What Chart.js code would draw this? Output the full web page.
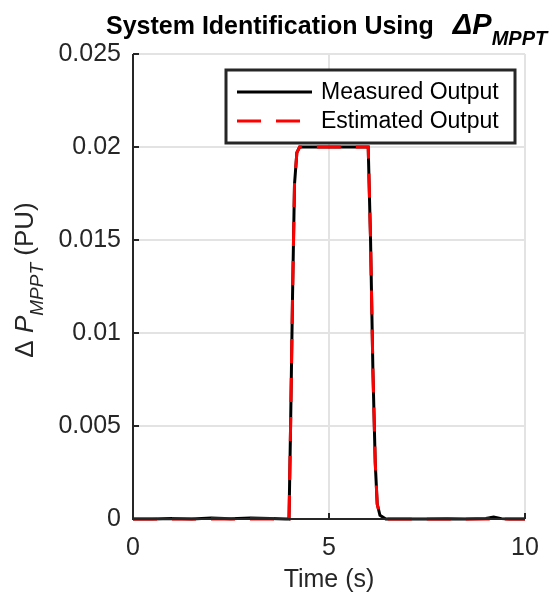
<!DOCTYPE html>
<html>
<head>
<meta charset="utf-8">
<script src="https://cdn.jsdelivr.net/npm/chart.js@4"></script>
<style>
  html, body { margin: 0; padding: 0; background: #fff; }
  #wrap { width: 555px; height: 596px; position: relative; }
</style>
</head>
<body>
<div id="wrap"><canvas id="chart" width="555" height="596"></canvas></div>
<script>
// System identification - step response of dP_MPPT

const timeS = [0, 0.5, 1, 1.5, 2, 2.5, 3, 3.5, 3.9, 3.98, 4.02, 4.07, 4.12, 4.18, 4.25, 4.5, 5, 5.5, 5.8, 6.0, 6.06, 6.12, 6.18, 6.23, 6.3, 6.45, 7, 7.5, 8, 8.5, 9, 9.2, 9.4, 9.6, 10];
const measured = [0, 0, 0.00003, 0, 0.00006, 0.00002, 0.00005, 0.00003, 0, 0, 0.005, 0.012, 0.018, 0.0197, 0.02, 0.02, 0.02, 0.02, 0.02, 0.02, 0.015, 0.008, 0.003, 0.0008, 0.0002, 0, 0, 0, 0.00002, 0, 0.00003, 0.0001, 0.00002, 0, 0];
const estimated = [0, 0, 0, 0, 0, 0, 0, 0, 0, 0, 0.005, 0.012, 0.018, 0.0197, 0.02, 0.02, 0.02, 0.02, 0.02, 0.02, 0.015, 0.008, 0.003, 0.0008, 0.0002, 0, 0, 0, 0, 0, 0, 0, 0, 0, 0];
const xTicks = [0, 5, 10];
const yTicks = [0, 0.005, 0.01, 0.015, 0.02, 0.025];

const FONT = '"Liberation Sans", Arial, sans-serif';
const AXIS = '#262626';

function pts(ys) {
  return timeS.map((t, i) => ({ x: t, y: ys[i] }));
}

// draws title, axis labels, inward ticks, box lines and legend
const decor = {
  id: 'decor',
  afterDraw(chart) {
    const ctx = chart.ctx;
    const a = chart.chartArea;
    const xs = chart.scales.x, ys = chart.scales.y;
    ctx.save();

    // axis lines
    ctx.strokeStyle = AXIS;
    ctx.lineWidth = 2;
    ctx.beginPath();
    ctx.moveTo(a.left, a.top);
    ctx.lineTo(a.left, a.bottom);
    ctx.lineTo(a.right, a.bottom);
    ctx.stroke();

    // inward ticks
    ctx.beginPath();
    xTicks.forEach(v => {
      const px = xs.getPixelForValue(v);
      ctx.moveTo(px, a.bottom);
      ctx.lineTo(px, a.bottom - 6);
    });
    yTicks.forEach(v => {
      const py = ys.getPixelForValue(v);
      ctx.moveTo(a.left, py);
      ctx.lineTo(a.left + 6, py);
    });
    ctx.stroke();

    ctx.fillStyle = '#000';
    ctx.textBaseline = 'alphabetic';

    // title
    let x = 106, y = 34;
    ctx.font = 'bold 25px ' + FONT;
    ctx.textAlign = 'left';
    const t1 = 'System Identification Using';
    ctx.fillText(t1, x, y);
    x += ctx.measureText(t1).width + 19;
    ctx.font = 'italic bold 29px ' + FONT;
    ctx.fillText('\u0394P', x, y);
    x += ctx.measureText('\u0394P').width;
    ctx.font = 'italic bold 20px ' + FONT;
    ctx.fillText('MPPT', x, y + 11);

    // x label
    ctx.fillStyle = AXIS;
    ctx.font = '25px ' + FONT;
    ctx.textAlign = 'center';
    ctx.fillText('Time (s)', (a.left + a.right) / 2, 587);

    // y label (rotated)
    ctx.save();
    ctx.translate(33, 280);
    ctx.rotate(-Math.PI / 2);
    ctx.textAlign = 'left';
    const parts = [
      { s: '\u0394 ', f: '26px ' + FONT, dy: 0 },
      { s: 'P', f: 'italic 26px ' + FONT, dy: 0 },
      { s: 'MPPT', f: 'italic 19px ' + FONT, dy: 10 },
      { s: ' (PU)', f: '26px ' + FONT, dy: 0 }
    ];
    let w = 0;
    parts.forEach(p => { ctx.font = p.f; w += ctx.measureText(p.s).width; });
    let cx = -w / 2;
    parts.forEach(p => {
      ctx.font = p.f;
      ctx.fillText(p.s, cx, p.dy);
      cx += ctx.measureText(p.s).width;
    });
    ctx.restore();

    // legend
    const lx = 226, ly = 70, lw = 289, lh = 73;
    ctx.fillStyle = '#fff';
    ctx.fillRect(lx, ly, lw, lh);
    ctx.strokeStyle = AXIS;
    ctx.lineWidth = 3;
    ctx.strokeRect(lx, ly, lw, lh);
    chart.data.datasets.forEach((ds, i) => {
      const rowY = ly + 22 + i * 29;
      ctx.strokeStyle = ds.borderColor;
      ctx.lineWidth = 3;
      ctx.setLineDash(ds.borderDash || []);
      ctx.beginPath();
      ctx.moveTo(237, rowY);
      ctx.lineTo(312, rowY);
      ctx.stroke();
      ctx.setLineDash([]);
      ctx.fillStyle = '#000';
      ctx.font = '23px ' + FONT;
      ctx.textAlign = 'left';
      ctx.textBaseline = 'middle';
      ctx.fillText(ds.label, 321, rowY + 1);
    });
    ctx.restore();
  }
};

new Chart(document.getElementById('chart'), {
  type: 'line',
  data: {
    datasets: [
      {
        label: 'Measured Output',
        data: pts(measured),
        borderColor: '#000000',
        borderWidth: 3,
        pointRadius: 0,
        tension: 0,
        clip: false,
        order: 2
      },
      {
        label: 'Estimated Output',
        data: pts(estimated),
        borderColor: '#ff0000',
        borderWidth: 3,
        borderDash: [24, 15],
        pointRadius: 0,
        tension: 0,
        clip: false,
        order: 1
      }
    ]
  },
  options: {
    responsive: false,
    animation: false,
    layout: { padding: { left: 0, right: 30, top: 54, bottom: 0 } },
    plugins: { legend: { display: false }, tooltip: { enabled: false }, title: { display: false } },
    scales: {
      x: {
        type: 'linear',
        min: 0, max: 10,
        afterFit: s => { s.height = 77; },
        afterBuildTicks: s => { s.ticks = xTicks.map(v => ({ value: v })); },
        border: { display: false },
        grid: { color: '#e3e3e3', lineWidth: 2, drawTicks: false },
        ticks: { color: AXIS, font: { family: FONT, size: 25 }, padding: 14, maxRotation: 0 }
      },
      y: {
        min: 0, max: 0.025,
        afterFit: s => { s.width = 133; },
        afterBuildTicks: s => { s.ticks = yTicks.map(v => ({ value: v })); },
        border: { display: false },
        grid: { color: '#e3e3e3', lineWidth: 2, drawTicks: false },
        ticks: { color: AXIS, font: { family: FONT, size: 25 }, padding: 12, callback: v => String(+v.toFixed(3)) }
      }
    }
  },
  plugins: [decor]
});
</script>
</body>
</html>
